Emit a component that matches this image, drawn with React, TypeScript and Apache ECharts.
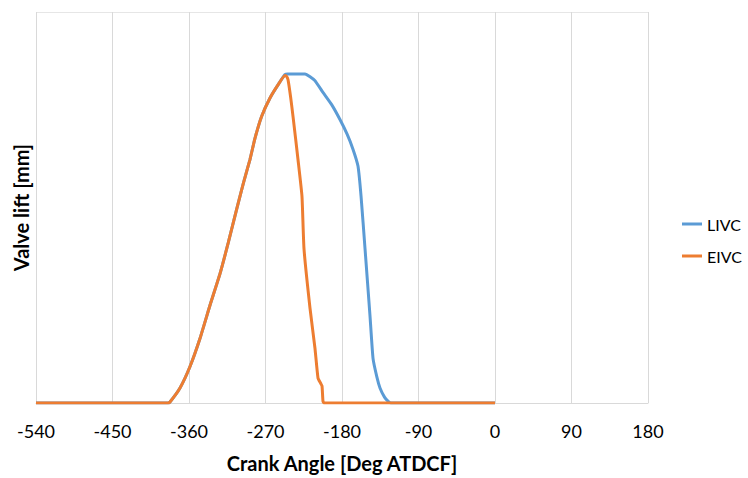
import React, { useEffect, useRef } from "react";
import * as echarts from "echarts";

const xTicks = [-540, -450, -360, -270, -180, -90, 0, 90, 180];

const riseAngle = [-540, -384.7, -382.4, -370.6, -358.8, -347.1, -335.3, -323.5, -313.8, -303.9, -296, -288.2, -282.4, -274.5, -264.7, -255.1, -247.1];
const riseLift = [0, 0, 0.03, 0.46, 1.12, 1.98, 3.0, 3.97, 4.92, 5.95, 6.75, 7.48, 8.12, 8.8, 9.36, 9.77, 10.05];

const livcFallAngle = [-244, -235, -223.5, -212, -202.4, -192, -182.4, -174, -167.1, -161.2, -157.6, -152.9, -147.1, -143.5, -139, -135.3, -130, -125.9, -122.4, 0];
const livcFallLift = [10.1, 10.1, 10.1, 9.9, 9.53, 9.15, 8.7, 8.25, 7.79, 7.27, 6.35, 4.73, 2.69, 1.37, 0.8, 0.46, 0.18, 0.06, 0, 0];

const eivcFallAngle = [-245, -243.5, -240.5, -237.6, -231.8, -227.1, -224.7, -217.6, -211.8, -208.2, -205, -203.5, -202.4, -201.2, 0];
const eivcFallLift = [10.02, 9.92, 9.4, 8.79, 7.48, 6.35, 4.73, 2.9, 1.68, 0.76, 0.6, 0.52, 0.06, 0, 0];

const livcAngle = [...riseAngle, ...livcFallAngle];
const livcLift = [...riseLift.slice(0, -1), 10.08, ...livcFallLift];
const eivcAngle = [...riseAngle, ...eivcFallAngle];
const eivcLift = [...riseLift, ...eivcFallLift];

const seriesNames = ["LIVC", "EIVC"];
const colors = ["#5B9BD5", "#ED7D31"];

export default function App() {
  const ref = useRef<HTMLDivElement>(null);
  useEffect(() => {
    if (!ref.current) return;
    const chart = echarts.init(ref.current, undefined, { renderer: "svg" });
    const font = "Lato, 'Open Sans', sans-serif";
    chart.setOption({
      animation: false,
      backgroundColor: "#ffffff",
      textStyle: { fontFamily: font },
      grid: { left: 36, right: 100, top: 12, bottom: 73, containLabel: false },
      legend: {
        orient: "vertical",
        left: 682,
        top: 216,
        padding: 0,
        itemWidth: 20,
        itemHeight: 3,
        itemGap: 16,
        icon: "rect",
        textStyle: { fontSize: 16, color: "#000", fontFamily: font },
        data: seriesNames,
      },
      xAxis: {
        type: "value",
        min: -540,
        max: 180,
        interval: 90,
        name: "Crank Angle [Deg ATDCF]",
        nameLocation: "middle",
        nameGap: 50,
        nameTextStyle: { fontSize: 20, fontWeight: "bold", color: "#000", fontFamily: font },
        axisLine: { show: true, lineStyle: { color: "#d9d9d9", width: 1 } },
        axisTick: { show: false },
        axisLabel: {
          fontSize: 18,
          color: "#000",
          margin: 19,
          fontFamily: font,
          formatter: (v: number) => (xTicks.includes(v) ? String(v) : ""),
        },
        splitLine: { show: true, lineStyle: { color: "#d9d9d9", width: 1 } },
      },
      yAxis: {
        type: "value",
        min: 0,
        max: 12,
        interval: 12,
        name: "Valve lift [mm]",
        nameLocation: "middle",
        nameGap: 5,
        nameTextStyle: { fontSize: 20, fontWeight: "bold", color: "#000", fontFamily: font },
        axisLine: { show: false },
        axisTick: { show: false },
        axisLabel: { show: false },
        splitLine: { show: true, lineStyle: { color: "#e6e6e6", width: 1 } },
      },
      series: [
        {
          name: seriesNames[0],
          type: "line",
          data: livcAngle.map((a, i) => [a, livcLift[i]]),
          showSymbol: false,
          smooth: 0.15,
          lineStyle: { color: colors[0], width: 3 },
          itemStyle: { color: colors[0] },
        },
        {
          name: seriesNames[1],
          type: "line",
          data: eivcAngle.map((a, i) => [a, eivcLift[i]]),
          showSymbol: false,
          smooth: 0.15,
          lineStyle: { color: colors[1], width: 3 },
          itemStyle: { color: colors[1] },
        },
      ],
    });
    return () => chart.dispose();
  }, []);
  return (
    <div
      ref={ref}
      style={{ position: "fixed", left: 0, top: 0, width: 748, height: 478 }}
    />
  );
}
